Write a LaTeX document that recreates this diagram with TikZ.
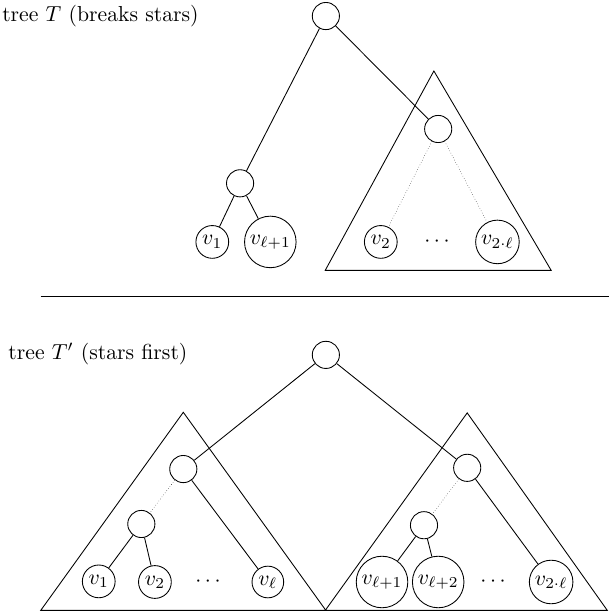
\documentclass[tikz,border=0pt]{standalone}
\begin{document}
\begin{tikzpicture}[scale=1]
  \tikzset{ p/.style={circle,draw,inner sep=1.5pt,minimum size=0.44cm},
            lbl/.style={anchor=west,inner sep=0pt},
            dots/.style={densely dotted,very thin},
  }
  \useasboundingbox (0,0) rectangle (9.87,-9.90);

  % tree T
  \node[lbl] (t1) at (0.03, -0.26) {tree $T$ (breaks stars)};
  \node[p] (1) at (5.28, -0.26)  {};
  \node[p] (2) at (3.89, -2.97)  {};
  \node[p] (3) at (3.44, -3.92)  {$v_1$};
  \node[p] (4) at (4.38, -3.92)  {$v_{\ell+1}$};
  \node[p] (5) at (7.10, -2.09)  {};
  \node[p] (6) at (6.17, -3.92)  {$v_2$};
  \node    (7) at (7.08, -3.92)  {$\cdots$};
  \node[p] (8) at (8.06, -3.92)  {$v_{2\cdot\ell}$};
  \draw (7.03, -1.15) -- (5.27, -4.38) -- (8.93, -4.38) -- cycle;

  % the edges of T
  \draw[-] (1) -- (2);
  \draw[-] (1) -- (5);
  \draw[-] (2) -- (3);
  \draw[-] (2) -- (4);
  \draw[dots] (5) -- (6);
  \draw[dots] (5) -- (8);

  % separator
  \coordinate (s1) at (0.66, -4.81);
  \coordinate (s2) at (9.87, -4.81);
  \draw (s1) -- (s2);

  % tree T'
  \node[lbl] (t2) at (0.13, -5.74) {tree $T'$ (stars first)};
  \node[p] (9)  at (5.28, -5.75) {};
  \node[p] (10) at (2.97, -7.60) {};
  \node[p] (11) at (2.29, -8.49) {};
  \node[p] (12) at (1.60, -9.42) {$v_1$};
  \node[p] (13) at (2.51, -9.43) {$v_2$};
  \node    (14) at (3.37, -9.43) {$\cdots$};
  \node[p] (15) at (4.34, -9.43) {$v_\ell$};
  \node[p] (16) at (7.57, -7.58) {};
  \node[p] (17) at (6.87, -8.51) {};
  \node[p] (18) at (6.19, -9.43) {$v_{\ell+1}$};
  \node[p] (19) at (7.10, -9.43) {$v_{\ell+2}$};
  \node    (20) at (7.99, -9.43) {$\cdots$};
  \node[p] (21) at (8.93, -9.43) {$v_{2\cdot\ell}$};
  \draw (2.97, -6.68) -- (0.66, -9.89) -- (5.28, -9.89) -- cycle;
  \draw (7.57, -6.69) -- (5.27, -9.89) -- (9.84, -9.89) -- cycle;

  % the edges of T'
  \draw[-] (9) -- (10);
  \draw[-] (9) -- (16);
  \draw[dots] (10) -- (11);
  \draw[-] (10) -- (15);
  \draw[-] (11) -- (12);
  \draw[-] (11) -- (13);
  \draw[dots] (16) -- (17);
  \draw[-] (16) -- (21);
  \draw[-] (17) -- (18);
  \draw[-] (17) -- (19);
\end{tikzpicture}
\end{document}
